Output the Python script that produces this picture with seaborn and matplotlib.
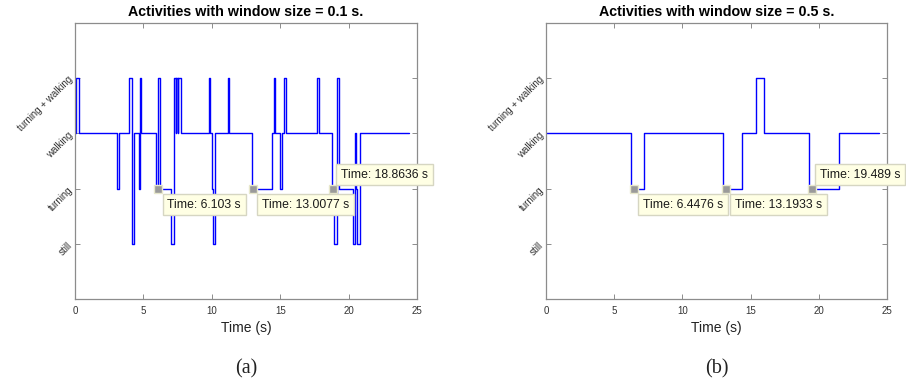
import numpy as np
import pandas as pd
import matplotlib
matplotlib.use("Agg")
import matplotlib.pyplot as plt
import seaborn as sns

# ---------------- data ----------------
activity_labels = ["still", "turning", "walking", "turning + walking"]
activity_levels = [1, 2, 3, 4]

# window 0.1 s : step changes (time, level), last point is end of record
t_01 = [0, 0.1, 0.3, 3.1, 3.2, 3.95, 4.15, 4.3, 4.65, 4.75, 4.85, 5.95, 6.1, 6.2,
        7.05, 7.25, 7.35, 7.4, 7.5, 7.55, 7.75, 9.8, 9.9, 10.0, 10.1, 10.2,
        11.15, 11.25, 12.95, 14.4, 14.55, 14.65, 15.0, 15.1, 15.3, 15.45,
        17.7, 17.8, 18.8, 18.95, 19.15, 19.3, 20.3, 20.45, 20.55, 20.65, 20.85, 24.4]
y_01 = [3, 4, 3, 2, 3, 4, 1, 3, 2, 4, 3, 2, 4, 2,
        1, 4, 3, 4, 3, 4, 3, 4, 3, 2, 1, 3,
        4, 3, 2, 3, 4, 3, 2, 3, 4, 3,
        4, 3, 2, 1, 4, 2, 1, 3, 2, 1, 3, 3]

# window 0.5 s
t_05 = [0, 6.2, 7.15, 12.95, 14.4, 15.4, 15.95, 19.25, 21.45, 24.4]
y_05 = [3, 2, 3, 2, 3, 4, 3, 2, 3, 3]

tips_01 = [6.103, 13.0077, 18.8636]
tips_01_text = ["Time: 6.103 s", "Time: 13.0077 s", "Time: 18.8636 s"]
tips_05 = [6.4476, 13.1933, 19.489]
tips_05_text = ["Time: 6.4476 s", "Time: 13.1933 s", "Time: 19.489 s"]
tip_above = [False, False, True]

titles = ["Activities with window size = 0.1 s.", "Activities with window size = 0.5 s."]
captions = ["(a)", "(b)"]
x_ticks = [0, 5, 10, 15, 20, 25]

# ---------------- style ----------------
sns.set_theme(style="white")
plt.rcParams["font.family"] = ["Liberation Sans", "DejaVu Sans"]

W, H = 906, 389
fig = plt.figure(figsize=(W / 100, H / 100), dpi=100)

axes_px = [(75, 417), (546, 887)]
top_px, bot_px = 23, 299

series = [(t_01, y_01, tips_01, tips_01_text), (t_05, y_05, tips_05, tips_05_text)]
spine_col = "#8c8c8c"

for i, ((x0, x1), (tt, yy, tips, tip_txt)) in enumerate(zip(axes_px, series)):
    ax = fig.add_axes([x0 / W, 1 - bot_px / H, (x1 - x0) / W, (bot_px - top_px) / H])
    df = pd.DataFrame({"t": tt, "level": yy})
    sns.lineplot(data=df, x="t", y="level", ax=ax, color="#0000ff", lw=1.0,
                 drawstyle="steps-post", estimator=None, sort=False)
    ax.set_xlim(0, 25)
    ax.set_ylim(0, 5)
    ax.set_xticks(x_ticks)
    ax.set_xticklabels([str(v) for v in x_ticks], fontsize=7, color="#333333")
    ax.set_yticks(activity_levels)
    ax.set_yticklabels(activity_labels, rotation=45, fontsize=7, color="#333333",
                       ha="right", va="center", rotation_mode="anchor")
    ax.tick_params(direction="in", length=3.5, width=0.7, color=spine_col,
                   top=True, right=True, bottom=True, left=True, pad=3)
    ax.tick_params(axis="x", pad=5)
    for s in ax.spines.values():
        s.set_color(spine_col)
        s.set_linewidth(0.9)
    ax.set_xlabel("Time (s)", fontsize=10, color="#222222", labelpad=3.5)
    ax.set_ylabel("")
    ax.set_title(titles[i], fontsize=10.3, fontweight="bold", pad=5, color="black")

    # data tips
    for k, (tx, txt) in enumerate(zip(tips, tip_txt)):
        ax.plot([tx], [2], marker="s", ms=6, mfc="#9a9a9a", mec="#e8e8cc", mew=1.0,
                zorder=5, clip_on=False)
        if tip_above[k]:
            off, va = (8, 8), "bottom"
        else:
            off, va = (9, -10), "top"
        ax.annotate(txt, xy=(tx, 2), xytext=off, textcoords="offset pixels",
                    ha="left", va=va, fontsize=8.8, color="#1a1a1a",
                    bbox=dict(boxstyle="square,pad=0.4", fc="#ffffe4", ec="#d6d6c2", lw=1.0),
                    zorder=6, annotation_clip=False)

    fig.text(((x0 + x1) / 2) / W, 1 - 369 / H, captions[i], ha="center", va="center",
             fontsize=14.5, family=["Liberation Serif", "DejaVu Serif"], color="#222222")

fig.savefig("out.png", dpi=100)
